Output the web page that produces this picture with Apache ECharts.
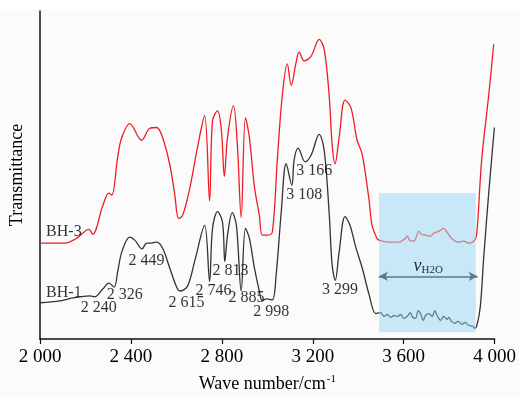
<!DOCTYPE html>
<html style="height: 100%">
<head>
	<meta charset="utf-8">
</head>
<body style="height: 100%; margin: 0; background: #fbfbfb">
<div id="container" style="width: 519px; height: 398px"></div>
<script type="text/javascript" src="https://cdn.jsdelivr.net/npm/echarts@6/dist/echarts.min.js"></script>
<script type="text/javascript">
    var dom = document.getElementById("container");
    var myChart = echarts.init(dom);

    // x ticks (wave number) and y is arbitrary transmittance
    var waveTicks = [2000, 2400, 2800, 3200, 3600, 4000];

    // BH-3 (red, upper trace) [wave number, transmittance]
    var bh3 = [
        [2000, 98], [2110, 98], [2162, 103], [2215, 112], [2232, 107], [2276, 136], [2303, 149], [2316, 147],
        [2342, 186], [2360, 206], [2395, 220], [2447, 203], [2482, 215], [2513, 216], [2539, 206], [2570, 179],
        [2592, 149], [2610, 123], [2627, 126], [2658, 153], [2693, 196], [2724, 228], [2746, 141], [2759, 223],
        [2781, 233], [2798, 213], [2811, 166], [2825, 206], [2851, 238], [2868, 199], [2885, 124], [2904, 226],
        [2921, 206], [2943, 156], [2965, 126], [2978, 106], [3000, 106], [3022, 109], [3044, 183], [3066, 249],
        [3088, 281], [3105, 259], [3127, 283], [3140, 293], [3162, 284], [3193, 289], [3228, 306], [3250, 296],
        [3272, 249], [3285, 199], [3298, 179], [3316, 206], [3342, 244], [3368, 236], [3395, 203], [3417, 189],
        [3447, 143], [3461, 116], [3482, 103], [3491, 101], [3535, 99], [3579, 99], [3608, 103], [3615, 105],
        [3626, 101], [3645, 100], [3667, 110], [3678, 107], [3696, 106], [3718, 105], [3732, 108], [3754, 110],
        [3776, 113], [3791, 109], [3806, 104], [3825, 100], [3842, 99], [3864, 100], [3886, 98], [3912, 101],
        [3922, 109], [3943, 183], [3974, 249], [3996, 301]
    ];

    // BH-1 (black, lower trace)
    var bh1 = [
        [2000, 37], [2088, 39], [2145, 42], [2219, 44], [2240, 43], [2276, 51], [2303, 57], [2326, 53],
        [2342, 69], [2360, 89], [2395, 104], [2417, 101], [2449, 92], [2469, 98], [2482, 98], [2513, 99],
        [2539, 93], [2570, 73], [2601, 53], [2615, 49], [2649, 54], [2680, 79], [2724, 116], [2746, 59],
        [2759, 113], [2781, 130], [2803, 119], [2813, 79], [2825, 106], [2846, 129], [2864, 116], [2885, 49],
        [2904, 113], [2921, 103], [2943, 73], [2965, 49], [2978, 39], [2996, 41], [3022, 40], [3039, 66],
        [3061, 129], [3083, 179], [3108, 157], [3118, 183], [3136, 195], [3166, 181], [3193, 188], [3228, 209],
        [3250, 193], [3272, 129], [3285, 76], [3299, 60], [3316, 89], [3342, 125], [3364, 116], [3390, 93],
        [3417, 73], [3447, 46], [3477, 26], [3499, 27], [3513, 23], [3528, 25], [3542, 22], [3557, 24],
        [3572, 23], [3586, 25], [3601, 21], [3615, 23], [3630, 27], [3637, 23], [3652, 21], [3664, 29],
        [3674, 26], [3686, 19], [3696, 24], [3711, 26], [3725, 23], [3737, 29], [3747, 24], [3762, 19],
        [3776, 23], [3791, 20], [3798, 22], [3810, 18], [3825, 16], [3839, 18], [3857, 15], [3871, 17],
        [3886, 14], [3904, 13], [3912, 11], [3922, 14], [3937, 33], [3952, 83], [3974, 149], [3999, 216]
    ];

    // peak / trace annotations
    var noteTexts = ["BH-3", "BH-1", "2 240", "2 326", "2 449", "2 615", "2 746", "2 813", "2 885", "2 998", "3 108", "3 166", "3 299"];
    var noteWaves = [2105, 2105, 2259, 2373, 2469, 2645, 2763, 2838, 2908, 3017, 3162, 3206, 3320];
    var noteLevels = [109, 47, 32, 45, 80, 37, 49, 70, 42, 28, 147, 172, 50];

    // water band region and arrow
    var waterBand = [3491, 3917];
    var waterLevels = [7, 149];
    var arrowLevel = 64;

    var serif = "'Liberation Serif', 'DejaVu Serif', serif";

    var notes = [];
    for (var i = 0; i < noteTexts.length; i++) {
        notes.push({ name: noteTexts[i], value: [noteWaves[i], noteLevels[i]] });
    }

    // the blue band sits over the traces in the original, so tint them inside it
    function bandPieces(base, tinted) {
        return [
            { lt: waterBand[0], color: base },
            { gte: waterBand[0], lte: waterBand[1], color: tinted },
            { gt: waterBand[1], color: base }
        ];
    }

    var option = {
        backgroundColor: '#fbfbfb',
        animation: false,
        graphic: [{
            type: 'rect',
            left: 0, top: 0,
            shape: { width: 519, height: 10 },
            style: { fill: '#fff' },
            z: -10
        }],
        grid: { left: 40, right: 23, top: 11, bottom: 52 },
        visualMap: [{
            type: 'piecewise', show: false, dimension: 0, seriesIndex: 0,
            pieces: bandPieces('#ee1c25', '#c97d8f')
        }, {
            type: 'piecewise', show: false, dimension: 0, seriesIndex: 1,
            pieces: bandPieces('#333', '#5e7d8f')
        }],
        xAxis: {
            type: 'value',
            min: 2000,
            max: 4000,
            interval: 400,
            name: 'Wave number/cm{sup|-1}',
            nameLocation: 'middle',
            nameGap: 35,
            nameTextStyle: {
                fontFamily: serif, fontSize: 18, color: '#000',
                rich: { sup: { fontFamily: serif, fontSize: 11, color: '#000', verticalAlign: 'top', padding: [0, 0, 9, 1] } }
            },
            axisLine: { lineStyle: { color: '#111', width: 1.5 } },
            axisTick: { length: 5, lineStyle: { color: '#111', width: 1.2 } },
            axisLabel: {
                fontFamily: serif, fontSize: 19, color: '#000', margin: 9,
                formatter: function (v) {
                    var s = String(v);
                    return s.slice(0, 1) + ' ' + s.slice(1);
                }
            },
            splitLine: { show: false }
        },
        yAxis: {
            type: 'value',
            min: 0,
            max: 335,
            name: 'Transmittance',
            nameLocation: 'middle',
            nameGap: 14,
            nameTextStyle: { fontFamily: serif, fontSize: 18, color: '#000' },
            axisLine: { show: true, lineStyle: { color: '#111', width: 1.5 } },
            axisTick: { show: false },
            axisLabel: { show: false },
            splitLine: { show: false }
        },
        series: [{
            name: 'BH-3',
            type: 'line',
            data: bh3,
            smooth: 0.35,
            symbol: 'none',
            z: 3,
            lineStyle: { width: 1.3 }
        }, {
            name: 'BH-1',
            type: 'line',
            data: bh1,
            smooth: 0.35,
            symbol: 'none',
            z: 3,
            lineStyle: { width: 1.3 }
        }, {
            name: 'water',
            type: 'line',
            data: [],
            z: 1,
            markArea: {
                silent: true,
                itemStyle: { color: '#c9e8f7' },
                data: [[{ coord: [waterBand[0], waterLevels[0]] }, { coord: [waterBand[1], waterLevels[1]] }]]
            }
        }, {
            name: 'arrow',
            type: 'line',
            data: [],
            z: 5,
            markLine: {
                silent: true,
                symbol: ['arrow', 'arrow'],
                symbolSize: [7, 9],
                lineStyle: { color: '#557a90', width: 1.5, type: 'solid' },
                label: {
                    show: true,
                    position: 'middle',
                    formatter: '{v|ν}{s|H2O}',
                    distance: 1,
                    rich: {
                        v: { fontFamily: serif, fontStyle: 'italic', fontSize: 18, color: '#1e2d36' },
                        s: { fontFamily: serif, fontSize: 11, color: '#1e2d36', verticalAlign: 'bottom', padding: [8, 0, 0, 0] }
                    }
                },
                data: [[{ coord: [waterBand[0], arrowLevel] }, { coord: [waterBand[1] + 8, arrowLevel] }]]
            }
        }, {
            name: 'notes',
            type: 'scatter',
            data: notes,
            symbolSize: 0,
            z: 6,
            silent: true,
            label: {
                show: true,
                position: 'inside',
                formatter: '{b}',
                fontFamily: serif,
                fontSize: 16,
                color: '#000',
                textBorderWidth: 0
            }
        }]
    };

    myChart.setOption(option, true);
</script>
</body>
</html>
